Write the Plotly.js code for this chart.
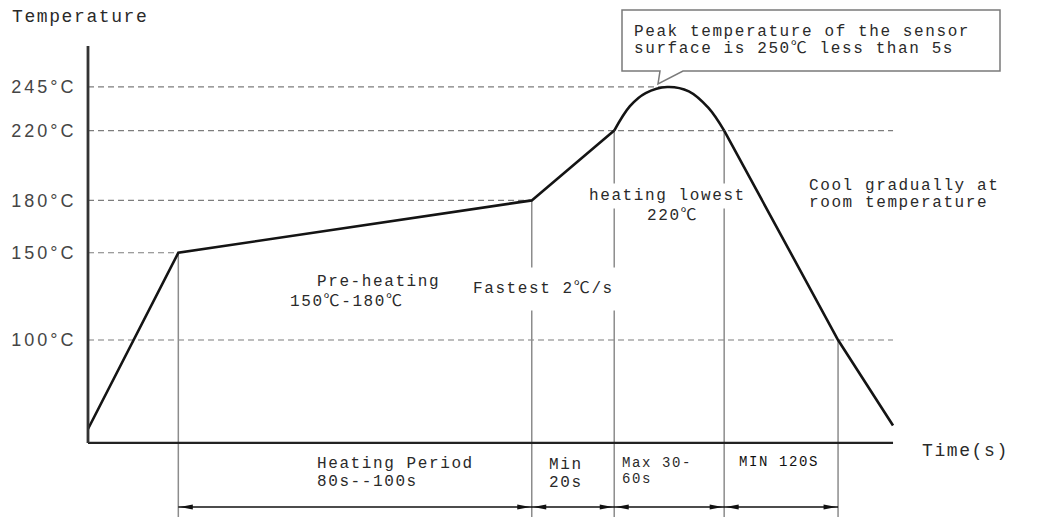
<!DOCTYPE html>
<html><head><meta charset="utf-8">
<script src="https://cdn.plot.ly/plotly-3.0.1.min.js"></script>
<style>
html,body{margin:0;padding:0;background:#fff;}
#chart{width:1054px;height:517px;}
.annotation-text{letter-spacing:1.6px;}
.ytick text{letter-spacing:3px;}
</style></head><body><div id="chart"></div>
<script>
// ---- data (time in s, temperature in °C) ----
const tempTicks  = [100, 150, 180, 220, 245];
const tempLabels = ['100°C', '150°C', '180°C', '220°C', '245°C'];

const rampTime = [0, 23, 113, 134];
const rampTemp = [49, 150, 180, 220];
const peakTime = [134, 138, 142, 147.5, 153, 158, 162];
const peakTemp = [220, 234, 241.5, 245, 242.5, 233, 220];
const coolTime = [162, 191, 205];
const coolTemp = [220, 100, 51];

// dashed guide lines: level and the time where each stops
const guideTemps = [245, 220, 180, 150, 100];
const guideEnds  = [147.5, 205, 113, 23, 205];

// phase boundaries (vertical markers) and the curve temperature at each
const markerTimes = [23, 113, 134, 162, 191];
const markerTemps = [150, 180, 220, 220, 100];

// ---- axis geometry ----
const X_RANGE = [-22.41, 245.99];
const Y_RANGE = [-1.43, 294.84];
const baseTemp = 41, axisTopTemp = 268.5, axisEndTime = 205, arrowTemp = 4.3;
const W = 1054, H = 517;
const pxPerSec = W / (X_RANGE[1] - X_RANGE[0]);
const pxPerDeg = H / (Y_RANGE[1] - Y_RANGE[0]);
const px = x => x / W, py = y => 1 - y / H;

const curveLine = {color: '#141414', width: 2.6};
const traces = [
  {x: rampTime, y: rampTemp, mode: 'lines', line: Object.assign({shape: 'linear'}, curveLine), hoverinfo: 'skip', showlegend: false},
  {x: peakTime, y: peakTemp, mode: 'lines', line: Object.assign({shape: 'spline', smoothing: 1}, curveLine), hoverinfo: 'skip', showlegend: false},
  {x: coolTime, y: coolTemp, mode: 'lines', line: Object.assign({shape: 'linear'}, curveLine), hoverinfo: 'skip', showlegend: false}
];

const shapes = [];
guideTemps.forEach((T, i) => shapes.push({type: 'line', xref: 'x', yref: 'y', x0: 0, x1: guideEnds[i], y0: T, y1: T,
  line: {color: '#7d7d7d', width: 1.2, dash: '6px,4px'}, layer: 'below'}));
markerTimes.forEach((t, i) => shapes.push({type: 'line', xref: 'x', yref: 'y', x0: t, x1: t, y0: markerTemps[i], y1: Y_RANGE[0],
  line: {color: '#8c8c8c', width: 1.5}, layer: 'below'}));
// axes
shapes.push({type: 'line', xref: 'x', yref: 'y', x0: 0, x1: axisEndTime, y0: baseTemp, y1: baseTemp, line: {color: '#222', width: 2.2}});
shapes.push({type: 'line', xref: 'x', yref: 'y', x0: 0, x1: 0, y0: baseTemp, y1: axisTopTemp, line: {color: '#333', width: 2.8}});
// dimension line with heads
shapes.push({type: 'line', xref: 'x', yref: 'y', x0: markerTimes[0], x1: markerTimes[markerTimes.length - 1], y0: arrowTemp, y1: arrowTemp, line: {color: '#111', width: 1.3}});
const hL = 13 / pxPerSec, hH = 2.6 / pxPerDeg, gap = 1.5 / pxPerSec;
for (let i = 0; i < markerTimes.length - 1; i++) {
  const a = markerTimes[i] + gap, b = markerTimes[i + 1] - gap;
  shapes.push({type: 'path', xref: 'x', yref: 'y', fillcolor: '#111', line: {width: 0},
    path: `M${b},${arrowTemp} L${b - hL},${arrowTemp + hH} L${b - hL},${arrowTemp - hH} Z`});
  shapes.push({type: 'path', xref: 'x', yref: 'y', fillcolor: '#111', line: {width: 0},
    path: `M${a},${arrowTemp} L${a + hL},${arrowTemp + hH} L${a + hL},${arrowTemp - hH} Z`});
}
// callout bubble
const bubble = [[622, 71], [622, 10], [1000, 10], [1000, 71], [683, 71], [658, 84], [660, 71]];
shapes.push({type: 'path', xref: 'paper', yref: 'paper', fillcolor: '#fff', line: {color: '#7a7a7a', width: 1.5}, layer: 'above',
  path: 'M' + bubble.map(p => px(p[0]) + ',' + py(p[1])).join(' L') + ' Z'});

const MONO = '"Liberation Mono", "DejaVu Sans Mono", "Noto Sans CJK SC", monospace';
function label(text, x, y, opts) {
  opts = opts || {};
  return Object.assign({text: text, xref: 'paper', yref: 'paper', x: px(x), y: py(y), xanchor: opts.anchor || 'left', yanchor: 'middle',
    showarrow: false, borderpad: opts.pad || 1, bgcolor: opts.bg || 'rgba(0,0,0,0)',
    font: {family: MONO, size: opts.size || 16, color: opts.color || '#2a2a2a'}}, opts.extra || {});
}
const annotations = [
  label('Temperature', 10, 17, {size: 18}),
  label('Peak temperature of the sensor', 632, 32),
  label('surface is 250℃ less than 5s', 632, 49),
  label('heating lowest', 667, 196, {anchor: 'center', bg: '#fff', pad: 3}),
  label('220℃', 672, 216, {anchor: 'center', bg: 'rgba(0,0,0,0)', pad: 1}),
  label('Cool gradually at', 807, 186),
  label('room temperature', 807, 203),
  label('Pre-heating', 378, 282, {anchor: 'center'}),
  label('150℃-180℃', 347, 302, {anchor: 'center'}),
  label('Fastest 2℃/s', 543, 289, {anchor: 'center', bg: '#fff', pad: 12}),
  label('Heating Period', 315, 464),
  label('80s--100s', 315, 482),
  label('Min', 547, 465),
  label('20s', 547, 483),
  label('Max 30-', 620, 463, {size: 14}),
  label('60s', 620, 479, {size: 14}),
  label('MIN 120S', 737, 462, {size: 14, color: '#111'}),
  label('Time(s)', 920, 451, {size: 18})
];

const layout = {
  width: W, height: H,
  margin: {l: 0, r: 0, t: 0, b: 0, pad: 0},
  paper_bgcolor: '#fff', plot_bgcolor: '#fff',
  showlegend: false,
  xaxis: {range: X_RANGE, showgrid: false, zeroline: false, showline: false, showticklabels: false, ticks: '', fixedrange: true},
  yaxis: {range: Y_RANGE, anchor: 'free', position: 88 / W, side: 'left', showgrid: false, zeroline: false, showline: false,
    ticks: 'outside', ticklen: 8, tickcolor: 'rgba(0,0,0,0)', tickvals: tempTicks, ticktext: tempLabels,
    tickfont: {family: '"Liberation Sans", Arial, sans-serif', size: 18, color: '#454545'}, fixedrange: true, automargin: false},
  shapes: shapes,
  annotations: annotations
};
Plotly.newPlot('chart', traces, layout, {displayModeBar: false, staticPlot: true});
</script></body></html>
